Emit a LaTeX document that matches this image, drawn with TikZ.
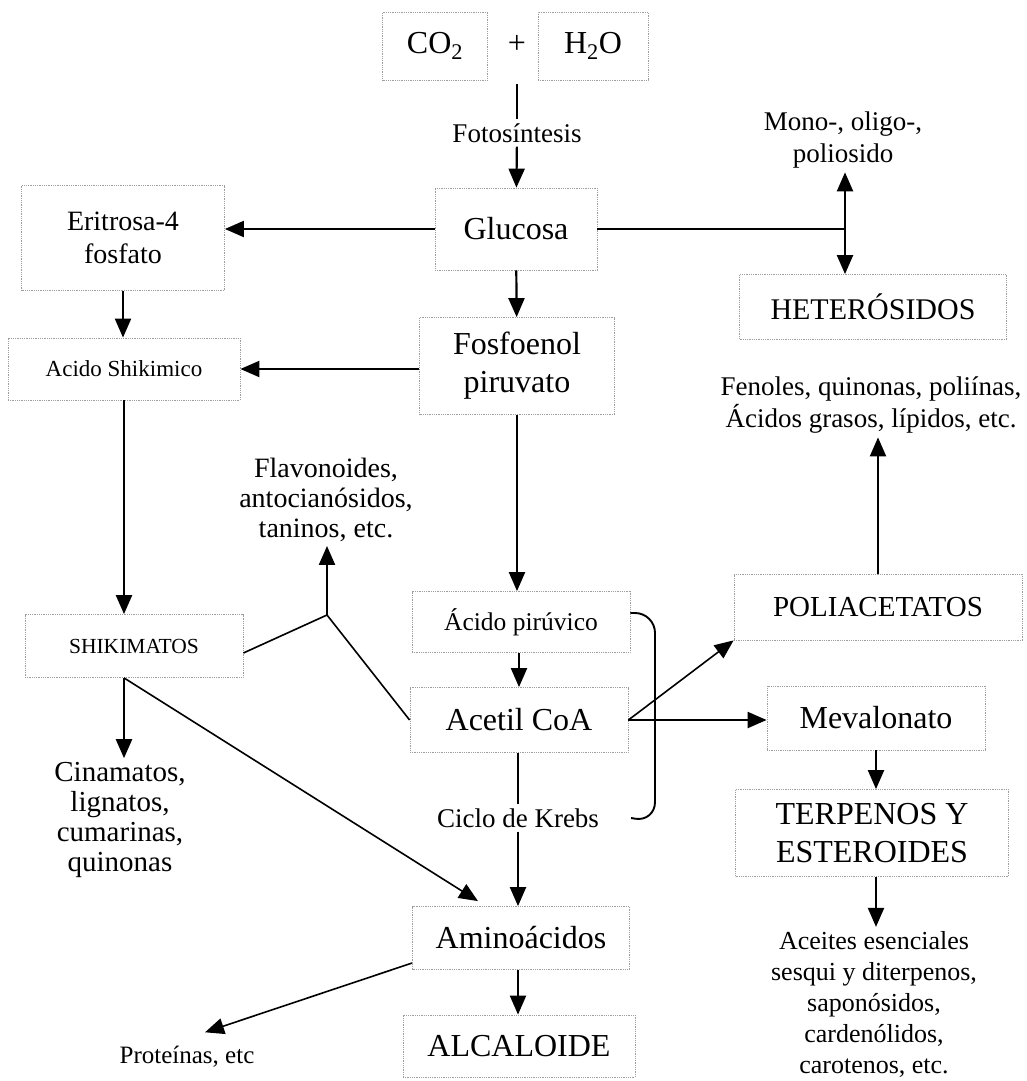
\documentclass[tikz,border=0pt]{standalone}
\usepackage{fontspec}
\setmainfont{Liberation Serif}
\usetikzlibrary{arrows.meta}

\begin{document}
\begin{tikzpicture}[x=1pt, y=-1pt, line width=2.2pt, >={Triangle[length=19pt,width=16pt]},
  box/.style={draw=black!38, densely dotted, line width=0.8pt, align=center, inner sep=2pt},
  big/.style={font=\fontsize{32}{38}\selectfont},
  med/.style={font=\fontsize{28}{33}\selectfont, align=center, inner sep=3pt},
  sml/.style={font=\fontsize{27}{32}\selectfont, align=center, inner sep=3pt},
  thin/.style={line width=1.6pt}]
  \useasboundingbox (0,0) rectangle (1026,1081);
  % top row
  \node[box, big, minimum width=105pt, minimum height=68pt] (co2) at (435,46) {CO\textsubscript{2}};
  \node[big] (plus) at (517,44) {+};
  \node[box, big, minimum width=110pt, minimum height=68pt] (h2o) at (593,46) {H\textsubscript{2}O};
  \coordinate (suma) at (517,84);
  \node[sml] (foto) at (517,133) {Fotosíntesis};
  \node[box, big, minimum width=162pt, minimum height=82pt] (glucosa) at (516,229) {Glucosa};
  \node[box, med, minimum width=203pt, minimum height=105pt] (eritrosa) at (123,238) {Eritrosa-4\\fosfato};
  \node[sml] (mono) at (843,140) {Mono-, oligo-,\\poliosido};
  \coordinate (hub) at (845,229);
  \node[box, font=\fontsize{30}{36}\selectfont, minimum width=267pt, minimum height=65pt] (heteros) at (873,307) {HETERÓSIDOS};
  % second row
  \node[box, big, minimum width=195pt, minimum height=97pt] (fosfo) at (517,366) {Fosfoenol\\piruvato};
  \node[box, font=\fontsize{23}{28}\selectfont, minimum width=232pt, minimum height=62pt] (acido) at (124,369) {Acido Shikimico};
  \node[sml] (fenoles) at (871,405) {Fenoles, quinonas, poliínas,\\Ácidos grasos, lípidos, etc.};
  \node[med, font=\fontsize{28}{30}\selectfont] (flavo) at (326,500) {Flavonoides,\\antocianósidos,\\taninos, etc.};
  % middle
  \node[box, font=\fontsize{25.5}{30}\selectfont, minimum width=218pt, minimum height=61pt] (piruvico) at (521,622) {Ácido pirúvico};
  \node[box, big, minimum width=218pt, minimum height=65pt] (acetil) at (519,720) {Acetil CoA};
  \node[sml] (ciclo) at (518,818) {Ciclo de Krebs};
  \node[box, font=\fontsize{21.5}{26}\selectfont, minimum width=218pt, minimum height=63pt] (shiki) at (134,646) {SHIKIMATOS};
  \coordinate (junta) at (327,615);
  \node[med, font=\fontsize{29}{30}\selectfont] (cinam) at (120,820) {Cinamatos,\\lignatos,\\cumarinas,\\quinonas};
  \node[box, big, minimum width=217pt, minimum height=63pt] (amino) at (521,938) {Aminoácidos};
  \node[box, big, minimum width=232pt, minimum height=62pt] (alca) at (519,1046) {ALCALOIDE};
  \node[sml, font=\fontsize{25}{30}\selectfont] (prot) at (187,1057) {Proteínas, etc};
  % right column
  \node[box, font=\fontsize{29}{34}\selectfont, minimum width=288pt, minimum height=66pt] (polia) at (878,607) {POLIACETATOS};
  \node[box, big, minimum width=218pt, minimum height=64pt] (meval) at (876,718) {Mevalonato};
  \node[box, big, minimum width=273pt, minimum height=87pt] (terp) at (872,833) {TERPENOS Y\\ESTEROIDES};
  \node[sml, font=\fontsize{26}{31}\selectfont] (aceites) at (874,1004) {Aceites esenciales\\sesqui y diterpenos,\\saponósidos,\\cardenólidos,\\carotenos, etc.};
  % connectors
  \draw (suma) -- (foto);
  \draw[->] (foto) -- (glucosa);
  \draw[->] (glucosa.west) -- (glucosa.west -| eritrosa.east);
  \draw (glucosa.east) -- (hub);
  \draw[->] (hub) -- (hub |- mono.south);
  \draw[->] (hub) -- (hub |- heteros.north);
  \draw[->] (glucosa) -- (fosfo);
  \draw[->] (eritrosa.south) -- (eritrosa.south |- acido.north);
  \draw[->] (fosfo.west |- acido.east) -- (acido.east);
  \draw[->] (polia.north) -- (polia.north |- fenoles.south);
  \draw[->] (fosfo.south) -- (fosfo.south |- piruvico.north);
  \draw[->] (piruvico.south -| acetil.north) -- (acetil.north);
  \draw (acetil.south -| ciclo.north) -- (ciclo.north);
  \draw[->] (ciclo.south) -- (ciclo.south |- amino.north);
  \draw[->] (amino.south -| ciclo.south) -- (ciclo.south |- alca.north);
  \draw[line width=1.9pt, rounded corners=20pt] ([yshift=9pt]piruvico.east) -| (655,822) -- ([xshift=28pt]ciclo.east);
  \draw[thin, ->] (acetil.east) -- (polia.south west);
  \draw[->] (acetil.east) -- (acetil.east -| meval.west);
  \draw[->] (meval.south) -- (meval.south |- terp.north);
  \draw[->] (meval.south |- terp.south) -- (meval.south |- aceites.north);
  \draw[thin] ([yshift=-7pt]shiki.east) -- (junta);
  \draw[thin] (acetil.west) -- (junta);
  \draw[->] (junta) -- (junta |- flavo.south);
  \draw[->] (acido.south) -- (acido.south |- shiki.north);
  \draw[->] (acido.south |- shiki.south) -- (acido.south |- cinam.north);
  \draw[thin, ->] (acido.south |- shiki.south) -- ([xshift=-43pt,yshift=5pt]amino.north);
  \draw[thin, ->] ([yshift=-25pt]amino.west) -- ([xshift=18pt,yshift=10pt]prot.north);
\end{tikzpicture}
\end{document}
